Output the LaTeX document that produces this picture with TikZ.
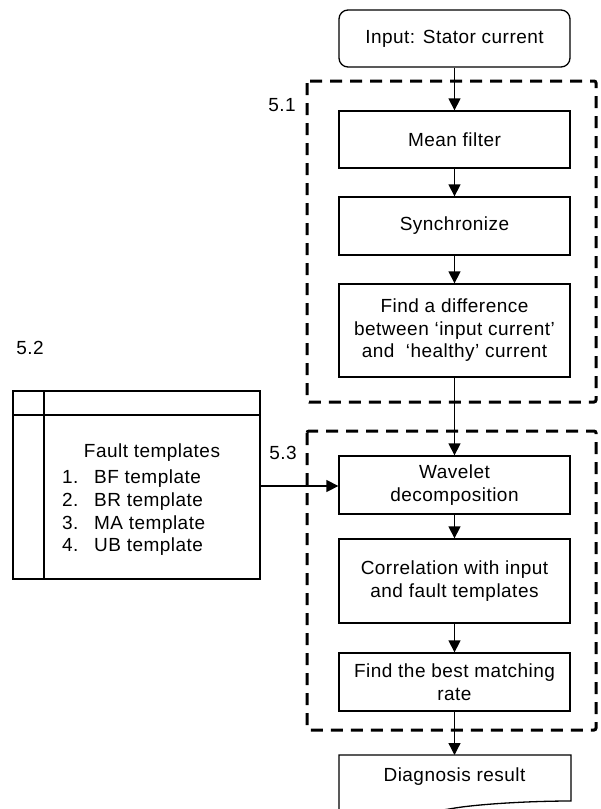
\documentclass[tikz,border=0pt]{standalone}
\usepackage{fontspec}
\setmainfont[LetterSpace=2.5]{Liberation Sans}
\usetikzlibrary{arrows.meta}
\begin{document}
\begin{tikzpicture}[x=1pt,y=-1pt,
  font=\fontsize{19}{22.5}\selectfont,
  box/.style={draw, line width=1.3pt, minimum width=231pt, align=center, inner sep=2pt},
  group/.style={draw, line width=3pt, dash pattern=on 12pt off 8pt, rounded corners=2pt},
  arr/.style={-{Triangle[length=12pt,width=12pt]}, line width=1.3pt},
  lbl/.style={inner sep=0pt}]
\clip (0,0) rectangle (601,809);
\fill[white] (0,0) rectangle (601,809);
% groups
\draw[group] (307,81) rectangle (596,402);
\draw[group] (307,431) rectangle (596,730);
% nodes
\node[box, rounded corners=9pt, minimum height=57pt] (in) at (454.5,38.5) {Input: Stator current};
\node[box, minimum height=57pt] (mf) at (454.5,139.5) {Mean filter};
\node[box, minimum height=58pt] (sync) at (454.5,226) {Synchronize};
\node[box, minimum height=93pt] (diff) at (454.5,330.5) {Find a difference\\between ‘input current’\\and \ ‘healthy’ current};
\node[box, minimum height=58pt] (wav) at (454.5,485) {Wavelet\\decomposition};
\node[box, minimum height=84pt] (corr) at (454.5,581) {Correlation with input\\and fault templates};
\node[box, minimum height=58pt] (best) at (454.5,682) {Find the best matching\\rate};
% diagnosis result (document shape)
\draw[line width=1.3pt] (339,755) -- (571,755) -- (571,801)
  .. controls (530,801) and (480,804) .. (455,808)
  .. controls (420,814) and (380,818) .. (339,819) -- cycle;
\node[lbl] (diag) at (454.5,777) {Diagnosis result};
\coordinate (diagtop) at (454.5,755);
% fault templates store
\draw[line width=1.3pt] (13,391) rectangle (260,579);
\draw[line width=1.3pt] (44,391) -- (44,579);
\draw[line width=1.3pt] (13,415) -- (260,415);
\node[lbl] (ft) at (152,453) {Fault templates};
\node[lbl, anchor=base west] (n1) at (62,483) {1.};
\node[lbl, anchor=base west] (t1) at (94,483) {BF template};
\node[lbl, anchor=base west] (n2) at (62,506) {2.};
\node[lbl, anchor=base west] (t2) at (94,506) {BR template};
\node[lbl, anchor=base west] (n3) at (62,529) {3.};
\node[lbl, anchor=base west] (t3) at (94,529) {MA template};
\node[lbl, anchor=base west] (n4) at (62,551) {4.};
\node[lbl, anchor=base west] (t4) at (94,551) {UB template};
\coordinate (store) at (260,486);
% labels
\node[lbl] (l51) at (282,105) {5.1};
\node[lbl] (l52) at (30,348) {5.2};
\node[lbl] (l53) at (283,453) {5.3};
% connectors
\draw[arr] (in) -- (mf);
\draw[arr] (mf) -- (sync);
\draw[arr] (sync) -- (diff);
\draw[arr] (diff) -- (wav);
\draw[arr] (wav) -- (corr);
\draw[arr] (corr) -- (best);
\draw[arr] (best) -- (diagtop);
\draw[arr] (store) -- (store -| wav.west);
\end{tikzpicture}
\end{document}
